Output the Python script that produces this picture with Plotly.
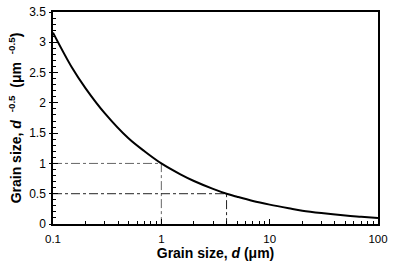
import plotly.graph_objects as go

# curve
d_vals = [0.1, 0.15, 0.2, 0.3, 0.5, 0.7, 1, 1.5, 2, 3, 4, 5, 7, 10, 15, 20, 30, 50, 70, 100]
g_vals = [3.16, 2.58, 2.24, 1.83, 1.41, 1.20, 1.0, 0.82, 0.71, 0.58, 0.5, 0.45, 0.38, 0.32, 0.26, 0.22, 0.18, 0.14, 0.12, 0.10]

# guide lines
guide1_x = [0.1, 1, 1]
guide1_y = [1, 1, 0]
guide2_x = [0.1, 4, 4]
guide2_y = [0.5, 0.5, 0]

x_major = [0.1, 1, 10, 100]
x_labels = ["0.1", "1", "10", "100"]
x_minor = [m * 10 ** e for e in (-1, 0, 1) for m in range(2, 10)]
y_major = [0, 0.5, 1, 1.5, 2, 2.5, 3, 3.5]

fig = go.Figure()
fig.add_trace(go.Scatter(x=guide1_x, y=guide1_y, mode="lines",
                         line=dict(color="#666666", width=1, dash="dashdot"), showlegend=False))
fig.add_trace(go.Scatter(x=guide2_x, y=guide2_y, mode="lines",
                         line=dict(color="#222222", width=1, dash="dashdot"), showlegend=False))
fig.add_trace(go.Scatter(x=d_vals, y=g_vals, mode="lines", line_shape="spline",
                         line=dict(color="black", width=2), showlegend=False))
# invisible trace on overlay axis for outside major y ticks
fig.add_trace(go.Scatter(x=[0.1], y=[0], yaxis="y2", mode="markers",
                         marker=dict(opacity=0), showlegend=False, hoverinfo="skip"))

font = dict(family="Liberation Sans, Arial, sans-serif", size=12, color="black")
fig.update_layout(
    width=393, height=266,
    margin=dict(l=53, r=10, t=5, b=42),
    paper_bgcolor="white", plot_bgcolor="white",
    font=font,
    xaxis=dict(
        type="log", range=[-1, 2],
        tickvals=x_major, ticktext=x_labels, tickfont=dict(size=11.5),
        showgrid=False, zeroline=False,
        showline=True, linecolor="black", linewidth=1.5, mirror=True,
        ticks="inside", ticklen=5, tickcolor="black", ticklabelstandoff=3,
        minor=dict(ticks="inside", ticklen=3, tickcolor="black", tickvals=x_minor, showgrid=False),
        title=dict(text="<b>Grain size, <i>d</i> (μm)</b>", font=dict(size=14), standoff=5),
    ),
    yaxis=dict(
        range=[0, 3.5], tickvals=y_major,
        showgrid=False, zeroline=False,
        showline=True, linecolor="black", linewidth=1.5, mirror=True,
        ticks="inside", ticklen=5, tickcolor="black", ticklabelstandoff=3,
        minor=dict(ticks="inside", ticklen=3, tickcolor="black", dtick=0.1, showgrid=False),
        title=dict(text="<b>Grain size, <i>d</i>  <sup>-0.5</sup>  (μm  <sup>-0.5</sup>)</b>",
                   font=dict(size=14), standoff=4),
    ),
    yaxis2=dict(overlaying="y", side="left", range=[0, 3.5], tickvals=y_major,
                showticklabels=False, ticks="outside", ticklen=3, tickcolor="black",
                showgrid=False, zeroline=False, showline=False),
)
fig.write_html("out.html", config={"displayModeBar": False},
               post_script="document.body.style.margin='0';document.body.style.overflow='hidden';")
